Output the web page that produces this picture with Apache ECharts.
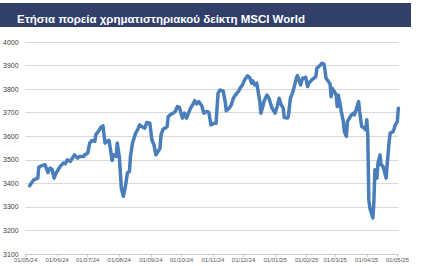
<!DOCTYPE html>
<html>
<head>
<meta charset="utf-8">
<script src="https://cdn.jsdelivr.net/npm/echarts@6/dist/echarts.min.js"></script>
<style>
html,body{margin:0;padding:0;background:#fff;width:433px;height:266px;overflow:hidden;}
#c{width:412px;height:266px;}
</style>
</head>
<body>
<div id="c"></div>
<script>
const titleText = 'Ετήσια πορεία χρηματιστηριακού δείκτη MSCI World';
const dates = [
'2024-05-05','2024-05-09','2024-05-13','2024-05-14','2024-05-17','2024-05-20','2024-05-23','2024-05-25','2024-05-27','2024-05-29','2024-05-31',
'2024-06-04','2024-06-07','2024-06-09','2024-06-11','2024-06-14','2024-06-16','2024-06-18','2024-06-21','2024-06-23','2024-06-27','2024-06-28',
'2024-07-01','2024-07-03','2024-07-05','2024-07-08','2024-07-09','2024-07-12','2024-07-14','2024-07-16','2024-07-18','2024-07-20','2024-07-22','2024-07-25','2024-07-26','2024-07-29','2024-07-30',
'2024-08-01','2024-08-02','2024-08-03','2024-08-05','2024-08-07','2024-08-09','2024-08-11','2024-08-12','2024-08-14','2024-08-17','2024-08-19','2024-08-21','2024-08-23','2024-08-26','2024-08-28','2024-08-31',
'2024-09-02','2024-09-04','2024-09-06','2024-09-08','2024-09-10','2024-09-11','2024-09-13','2024-09-15','2024-09-17','2024-09-18','2024-09-20','2024-09-23','2024-09-25','2024-09-27','2024-09-29',
'2024-10-01','2024-10-02','2024-10-04','2024-10-06','2024-10-08','2024-10-10','2024-10-12','2024-10-14','2024-10-16','2024-10-18','2024-10-21','2024-10-23','2024-10-26','2024-10-28','2024-10-30',
'2024-11-02','2024-11-04','2024-11-06','2024-11-08','2024-11-11','2024-11-13','2024-11-14','2024-11-17','2024-11-19','2024-11-21','2024-11-23','2024-11-26','2024-11-28','2024-11-30',
'2024-12-02','2024-12-05','2024-12-07','2024-12-09','2024-12-10','2024-12-12','2024-12-14','2024-12-17','2024-12-18','2024-12-20','2024-12-21','2024-12-24','2024-12-26','2024-12-28','2024-12-29',
'2025-01-01','2025-01-03','2025-01-05','2025-01-07','2025-01-09','2025-01-10','2025-01-13','2025-01-14','2025-01-16','2025-01-18','2025-01-19','2025-01-22','2025-01-23','2025-01-26','2025-01-28','2025-01-31',
'2025-02-02','2025-02-03','2025-02-06','2025-02-08','2025-02-10','2025-02-11','2025-02-14','2025-02-16','2025-02-18','2025-02-19','2025-02-20','2025-02-22','2025-02-24','2025-02-25','2025-02-26','2025-02-28',
'2025-03-02','2025-03-03','2025-03-04','2025-03-06','2025-03-07','2025-03-09','2025-03-10','2025-03-12','2025-03-13','2025-03-15','2025-03-17','2025-03-19','2025-03-20','2025-03-22','2025-03-24','2025-03-25','2025-03-27','2025-03-29','2025-03-31',
'2025-04-01','2025-04-02','2025-04-03','2025-04-04','2025-04-07','2025-04-08','2025-04-09','2025-04-11','2025-04-12','2025-04-14','2025-04-15','2025-04-17','2025-04-20','2025-04-21','2025-04-23','2025-04-24','2025-04-27','2025-04-29',
'2025-05-01','2025-05-02'
];
const values = [
3390,3415,3422,3469,3475,3479,3446,3465,3460,3422,3444,
3472,3486,3483,3500,3493,3507,3521,3507,3514,3514,3521,
3528,3571,3582,3578,3606,3624,3638,3644,3571,3578,3582,3497,3521,3514,3571,
3514,3451,3380,3345,3387,3444,3451,3514,3571,3613,3627,3648,3641,3634,3658,3655,
3585,3564,3521,3535,3549,3606,3630,3634,3641,3683,3691,3698,3705,3726,3723,
3691,3677,3698,3677,3698,3719,3733,3751,3737,3747,3729,3698,3705,3701,3648,
3655,3655,3783,3796,3792,3747,3708,3719,3733,3761,3775,3790,3807,3818,
3839,3856,3849,3825,3835,3818,3825,3747,3698,3726,3747,3775,3761,3733,3719,
3698,3726,3761,3733,3719,3679,3677,3684,3761,3783,3797,3849,3857,3818,3846,3850,
3811,3825,3839,3846,3853,3888,3900,3910,3905,3881,3846,3835,3821,3768,3804,3790,
3775,3726,3775,3733,3705,3662,3620,3599,3662,3677,3691,3698,3691,3719,3747,3705,3641,3637,3627,
3670,3606,3331,3295,3253,3323,3458,3422,3486,3521,3479,3472,3422,3479,3578,3613,3620,3648,
3662,3719
];
const yMin = 3100, yMax = 4000, yStep = 100;
const xMin = '2024-05-01', xMax = '2025-05-02';

const pad = n => (n < 10 ? '0' : '') + n;
const chart = echarts.init(document.getElementById('c'), null, {renderer: 'svg'});
chart.setOption({
  animation: false,
  graphic: [{
    type: 'rect', left: 0, top: 3, shape: {width: 411, height: 24},
    style: {fill: '#333f6b'}, z: 0
  }],
  title: {
    text: titleText, left: 12, top: 8,
    textStyle: {color: '#ffffff', fontSize: 11.5, fontWeight: 'bold', fontFamily: 'Liberation Sans'}
  },
  grid: {left: 25, right: 7, top: 42, bottom: 12, containLabel: false},
  xAxis: {
    type: 'time',
    min: xMin, max: xMax,
    minInterval: 28 * 86400000, maxInterval: 31 * 86400000,
    axisLine: {show: true, lineStyle: {color: '#c8c8c8', width: 1}},
    axisTick: {show: true, length: 3, lineStyle: {color: '#c8c8c8'}},
    splitLine: {show: false},
    axisLabel: {
      fontSize: 6, color: '#595959', margin: 3, fontFamily: 'Liberation Sans',
      showMinLabel: true, showMaxLabel: false, hideOverlap: false,
      formatter: v => { const d = new Date(v); return pad(d.getDate()) + '/' + pad(d.getMonth() + 1) + '/' + String(d.getFullYear()).slice(2); }
    }
  },
  yAxis: {
    type: 'value', min: yMin, max: yMax, interval: yStep,
    axisLine: {show: false}, axisTick: {show: false},
    splitLine: {lineStyle: {color: '#d9d9d9', width: 1}},
    axisLabel: {fontSize: 7, color: '#404040', margin: 7, fontFamily: 'Liberation Sans', formatter: v => String(v)}
  },
  series: [{
    type: 'line', showSymbol: false, symbol: 'none',
    data: dates.map((d, i) => [d, values[i]]),
    lineStyle: {color: '#4a7ebb', width: 3.5, cap: 'round', join: 'round'}
  }]
});
</script>
</body>
</html>
